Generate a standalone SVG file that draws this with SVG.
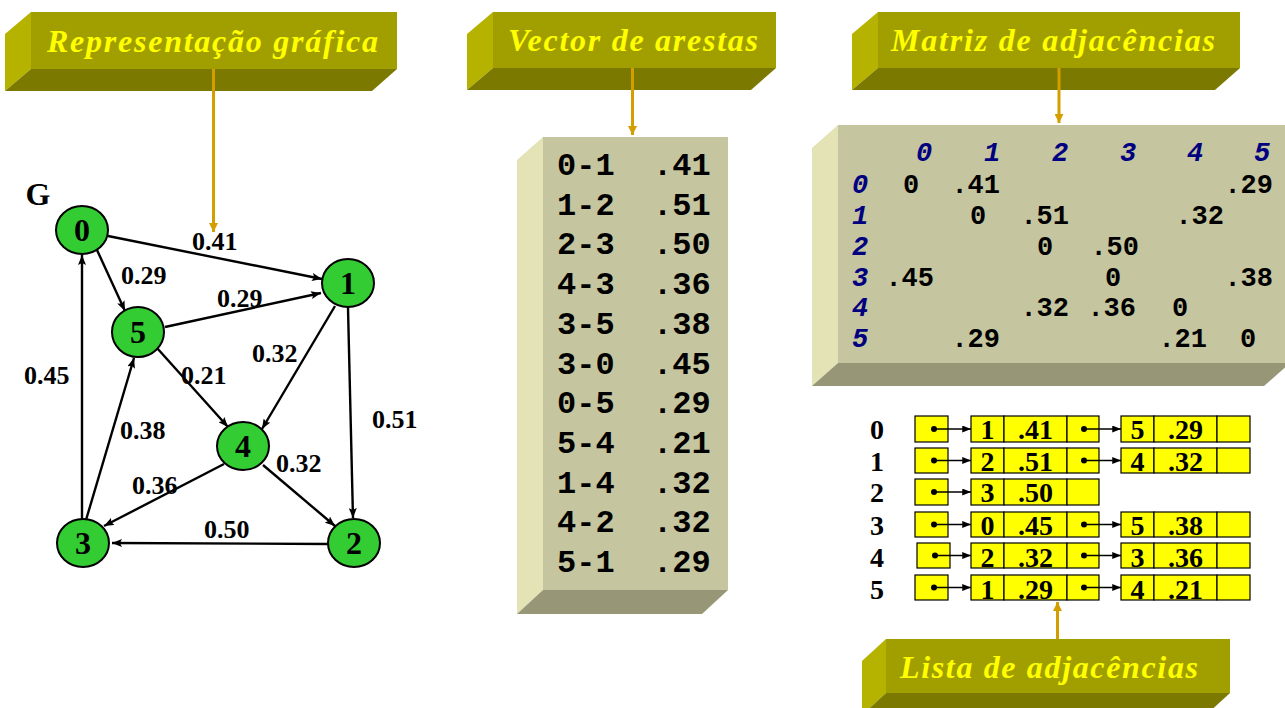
<svg xmlns="http://www.w3.org/2000/svg" width="1285" height="708" viewBox="0 0 1285 708">
<style>
.bf{fill:#A19E00}.bl{fill:#B5B200}.bb{fill:#7B7900}
.bt{font-family:"Liberation Serif",serif;font-weight:bold;font-style:italic;font-size:32px;fill:#FFFF00}
.pf{fill:#C5C59F}.pl{fill:#E3E3B6}.pb{fill:#979777}
.oc{stroke:#D49E00;stroke-width:3;fill:none}
.edge{stroke:#000;stroke-width:2.4;fill:none}
.gn{fill:#33CC33;stroke:#000;stroke-width:2}
.gl{font-family:"Liberation Serif",serif;font-weight:bold;font-size:32px;text-anchor:middle}
.el{font-family:"Liberation Serif",serif;font-weight:bold;font-size:26px}
.vt{font-family:"Liberation Mono",monospace;font-weight:bold;font-size:32px}
.mt{font-family:"Liberation Mono",monospace;font-weight:bold;font-size:27px}
.mh{font-family:"Liberation Mono",monospace;font-weight:bold;font-style:italic;font-size:27px;fill:#000080;text-anchor:middle}
.lb{fill:#FFFF00;stroke:#000;stroke-width:1.2}
.lt{font-family:"Liberation Serif",serif;font-weight:bold;font-size:28px;text-anchor:middle}
.pl2{stroke:#000;stroke-width:1.5}
</style>
<defs>
<marker id="ah" viewBox="0 0 10 8" refX="10" refY="4" markerWidth="10" markerHeight="8" markerUnits="userSpaceOnUse" orient="auto"><path d="M0,0 L10,4 L0,8 L2,4 z" fill="#000"/></marker>
<marker id="sah" viewBox="0 0 10 8" refX="10" refY="4" markerWidth="9" markerHeight="7" markerUnits="userSpaceOnUse" orient="auto"><path d="M0,0 L10,4 L0,8 z" fill="#000"/></marker>
<marker id="oah" viewBox="0 0 10 10" refX="10" refY="5" markerWidth="9" markerHeight="9" markerUnits="userSpaceOnUse" orient="auto"><path d="M0,0 L10,5 L0,10 z" fill="#D49E00"/></marker>
</defs>

<!-- Banners -->
<g id="banner-grafica">
<polygon class="bl" points="31,12 5,34 5,91 31,69"/>
<polygon class="bb" points="31,69 397,69 372,91 5,91"/>
<rect class="bf" x="31" y="12" width="366" height="57"/>
<text class="bt" x="47" y="52" textLength="331" lengthAdjust="spacing">Representação gráfica</text>
</g>
<g id="banner-vector">
<polygon class="bl" points="493,12 467,34 467,90 493,68"/>
<polygon class="bb" points="493,68 776,68 751,90 467,90"/>
<rect class="bf" x="493" y="12" width="283" height="56"/>
<text class="bt" x="508" y="51" textLength="250" lengthAdjust="spacing">Vector de arestas</text>
</g>
<g id="banner-matriz">
<polygon class="bl" points="878,12 852,34 852,90 878,68"/>
<polygon class="bb" points="878,68 1240,68 1215,90 852,90"/>
<rect class="bf" x="878" y="12" width="362" height="56"/>
<text class="bt" x="891" y="51" textLength="324" lengthAdjust="spacing">Matriz de adjacências</text>
</g>
<g id="banner-lista">
<polygon class="bl" points="886,639 862,661 862,715 886,693"/>
<polygon class="bb" points="886,693 1230,693 1206,715 862,715"/>
<rect class="bf" x="886" y="639" width="344" height="54"/>
<text class="bt" x="900" y="678" textLength="298" lengthAdjust="spacing">Lista de adjacências</text>
</g>

<!-- Vector box -->
<g id="vector">
<polygon class="pl" points="543,137 517,160 517,614 543,590"/>
<polygon class="pb" points="543,590 728,590 702,614 517,614"/>
<rect class="pf" x="543" y="137" width="185" height="453"/>
<g class="vt">
<text x="557" y="175">0-1</text><text x="653" y="175">.41</text>
<text x="557" y="214.7">1-2</text><text x="653" y="214.7">.51</text>
<text x="557" y="254.4">2-3</text><text x="653" y="254.4">.50</text>
<text x="557" y="294.1">4-3</text><text x="653" y="294.1">.36</text>
<text x="557" y="333.8">3-5</text><text x="653" y="333.8">.38</text>
<text x="557" y="373.5">3-0</text><text x="653" y="373.5">.45</text>
<text x="557" y="413.2">0-5</text><text x="653" y="413.2">.29</text>
<text x="557" y="452.9">5-4</text><text x="653" y="452.9">.21</text>
<text x="557" y="492.6">1-4</text><text x="653" y="492.6">.32</text>
<text x="557" y="532.3">4-2</text><text x="653" y="532.3">.32</text>
<text x="557" y="572">5-1</text><text x="653" y="572">.29</text>
</g>
</g>

<!-- Matrix box -->
<g id="matriz">
<polygon class="pl" points="838,125 812,148 812,386 838,363"/>
<polygon class="pb" points="838,363 1290,363 1264,386 812,386"/>
<rect class="pf" x="838" y="125" width="452" height="238"/>
<g class="mh">
<text x="924" y="161">0</text><text x="992" y="161">1</text><text x="1060" y="161">2</text><text x="1128" y="161">3</text><text x="1195" y="161">4</text><text x="1262" y="161">5</text>
<text x="860" y="193">0</text><text x="860" y="224">1</text><text x="860" y="255">2</text><text x="860" y="286">3</text><text x="860" y="316">4</text><text x="860" y="347">5</text>
</g>
<g class="mt">
<text x="911" y="193" text-anchor="middle">0</text><text x="1000" y="193" text-anchor="end">.41</text><text x="1273" y="193" text-anchor="end">.29</text>
<text x="978" y="224" text-anchor="middle">0</text><text x="1069" y="224" text-anchor="end">.51</text><text x="1224" y="224" text-anchor="end">.32</text>
<text x="1045" y="255" text-anchor="middle">0</text><text x="1139" y="255" text-anchor="end">.50</text>
<text x="934" y="286" text-anchor="end">.45</text><text x="1113" y="286" text-anchor="middle">0</text><text x="1273" y="286" text-anchor="end">.38</text>
<text x="1069" y="316" text-anchor="end">.32</text><text x="1136" y="316" text-anchor="end">.36</text><text x="1180" y="316" text-anchor="middle">0</text>
<text x="1000" y="347" text-anchor="end">.29</text><text x="1207" y="347" text-anchor="end">.21</text><text x="1248" y="347" text-anchor="middle">0</text>
</g>
</g>

<!-- Adjacency list -->
<g id="lista">
<g class="lt">
<text x="877" y="439">0</text><text x="877" y="471">1</text><text x="877" y="502">2</text><text x="877" y="535">3</text><text x="877" y="567">4</text><text x="877" y="599">5</text>
</g>
<g id="lista-0">
<rect class="lb" x="915" y="416" width="33" height="26"/>
<rect class="lb" x="971" y="416" width="33" height="26"/><rect class="lb" x="1004" y="416" width="63" height="26"/><rect class="lb" x="1067" y="416" width="32" height="26"/>
<rect class="lb" x="1121" y="416" width="33" height="26"/><rect class="lb" x="1154" y="416" width="63" height="26"/><rect class="lb" x="1217" y="416" width="33" height="26"/>
<text class="lt" x="987.5" y="439">1</text><text class="lt" x="1035.5" y="439">.41</text>
<text class="lt" x="1137.5" y="439">5</text><text class="lt" x="1185.5" y="439">.29</text>
</g>
<g id="lista-1">
<rect class="lb" x="915" y="448" width="33" height="25"/>
<rect class="lb" x="971" y="448" width="33" height="25"/><rect class="lb" x="1004" y="448" width="63" height="25"/><rect class="lb" x="1067" y="448" width="32" height="25"/>
<rect class="lb" x="1121" y="448" width="33" height="25"/><rect class="lb" x="1154" y="448" width="63" height="25"/><rect class="lb" x="1217" y="448" width="33" height="25"/>
<text class="lt" x="987.5" y="471">2</text><text class="lt" x="1035.5" y="471">.51</text>
<text class="lt" x="1137.5" y="471">4</text><text class="lt" x="1185.5" y="471">.32</text>
</g>
<g id="lista-2">
<rect class="lb" x="915" y="479" width="33" height="26"/>
<rect class="lb" x="971" y="479" width="33" height="26"/><rect class="lb" x="1004" y="479" width="63" height="26"/><rect class="lb" x="1067" y="479" width="32" height="26"/>
<text class="lt" x="987.5" y="502">3</text><text class="lt" x="1035.5" y="502">.50</text>
</g>
<g id="lista-3">
<rect class="lb" x="915" y="512" width="33" height="25"/>
<rect class="lb" x="971" y="512" width="33" height="25"/><rect class="lb" x="1004" y="512" width="63" height="25"/><rect class="lb" x="1067" y="512" width="32" height="25"/>
<rect class="lb" x="1121" y="512" width="33" height="25"/><rect class="lb" x="1154" y="512" width="63" height="25"/><rect class="lb" x="1217" y="512" width="33" height="25"/>
<text class="lt" x="987.5" y="535">0</text><text class="lt" x="1035.5" y="535">.45</text>
<text class="lt" x="1137.5" y="535">5</text><text class="lt" x="1185.5" y="535">.38</text>
</g>
<g id="lista-4">
<rect class="lb" x="917" y="543" width="33" height="25"/>
<rect class="lb" x="971" y="543" width="33" height="25"/><rect class="lb" x="1004" y="543" width="63" height="25"/><rect class="lb" x="1067" y="543" width="32" height="25"/>
<rect class="lb" x="1121" y="543" width="33" height="25"/><rect class="lb" x="1154" y="543" width="63" height="25"/><rect class="lb" x="1217" y="543" width="33" height="25"/>
<text class="lt" x="987.5" y="567">2</text><text class="lt" x="1035.5" y="567">.32</text>
<text class="lt" x="1137.5" y="567">3</text><text class="lt" x="1185.5" y="567">.36</text>
</g>
<g id="lista-5">
<rect class="lb" x="915" y="575" width="33" height="25"/>
<rect class="lb" x="971" y="575" width="33" height="25"/><rect class="lb" x="1004" y="575" width="63" height="25"/><rect class="lb" x="1067" y="575" width="32" height="25"/>
<rect class="lb" x="1121" y="575" width="33" height="25"/><rect class="lb" x="1154" y="575" width="63" height="25"/><rect class="lb" x="1217" y="575" width="33" height="25"/>
<text class="lt" x="987.5" y="599">1</text><text class="lt" x="1035.5" y="599">.29</text>
<text class="lt" x="1137.5" y="599">4</text><text class="lt" x="1185.5" y="599">.21</text>
</g>
<g id="lista-ponteiros">
<g fill="#000">
<circle cx="934" cy="429" r="3"/><circle cx="1084" cy="429" r="3"/>
<circle cx="934" cy="460.5" r="3"/><circle cx="1084" cy="460.5" r="3"/>
<circle cx="934" cy="492" r="3"/>
<circle cx="934" cy="524.5" r="3"/><circle cx="1084" cy="524.5" r="3"/>
<circle cx="935" cy="555.5" r="3"/><circle cx="1084" cy="555.5" r="3"/>
<circle cx="934" cy="587.5" r="3"/><circle cx="1084" cy="587.5" r="3"/>
</g>
<g class="pl2" marker-end="url(#sah)">
<line x1="934" y1="429" x2="971" y2="429"/><line x1="1084" y1="429" x2="1121" y2="429"/>
<line x1="934" y1="460.5" x2="971" y2="460.5"/><line x1="1084" y1="460.5" x2="1121" y2="460.5"/>
<line x1="934" y1="492" x2="971" y2="492"/>
<line x1="934" y1="524.5" x2="971" y2="524.5"/><line x1="1084" y1="524.5" x2="1121" y2="524.5"/>
<line x1="935" y1="555.5" x2="971" y2="555.5"/><line x1="1084" y1="555.5" x2="1121" y2="555.5"/>
<line x1="934" y1="587.5" x2="971" y2="587.5"/><line x1="1084" y1="587.5" x2="1121" y2="587.5"/>
</g>
</g>
</g>

<!-- Graph -->
<text class="gl" x="38" y="205">G</text>
<g id="connectors">
<g class="edge" marker-end="url(#ah)">
<line x1="108" y1="236" x2="322" y2="279"/>
<line x1="97" y1="250" x2="125" y2="311"/>
<line x1="165" y1="327" x2="321" y2="293"/>
<line x1="335" y1="306" x2="262" y2="429"/>
<line x1="157" y1="348" x2="228" y2="427"/>
<line x1="348" y1="308" x2="353" y2="518"/>
<line x1="82" y1="520" x2="82" y2="255"/>
<line x1="86" y1="520" x2="134" y2="358"/>
<line x1="224" y1="464" x2="104" y2="526"/>
<line x1="263" y1="465" x2="335" y2="526"/>
<line x1="328" y1="544" x2="112" y2="543"/>
</g>
<g class="oc" marker-end="url(#oah)">
<line x1="213.5" y1="69" x2="213.5" y2="232"/>
<line x1="632.5" y1="68" x2="632.5" y2="135"/>
<line x1="1059" y1="68" x2="1059" y2="123"/>
<line x1="1057.5" y1="639" x2="1057.5" y2="602"/>
</g>
<g class="el">
<text x="192" y="250">0.41</text>
<text x="121" y="284">0.29</text>
<text x="217" y="307">0.29</text>
<text x="252" y="362">0.32</text>
<text x="181" y="384">0.21</text>
<text x="24" y="384">0.45</text>
<text x="372" y="428">0.51</text>
<text x="120" y="439">0.38</text>
<text x="276" y="472">0.32</text>
<text x="132" y="494">0.36</text>
<text x="204" y="538">0.50</text>
</g>
</g>
<g id="node-0"><ellipse class="gn" cx="82" cy="230" rx="26" ry="24"/><text class="gl" x="82" y="241">0</text></g>
<g id="node-1"><ellipse class="gn" cx="348" cy="283" rx="26" ry="24"/><text class="gl" x="348" y="294">1</text></g>
<g id="node-2"><ellipse class="gn" cx="354" cy="543" rx="26" ry="24"/><text class="gl" x="354" y="554">2</text></g>
<g id="node-3"><ellipse class="gn" cx="83" cy="543" rx="26" ry="24"/><text class="gl" x="83" y="554">3</text></g>
<g id="node-4"><ellipse class="gn" cx="243" cy="446" rx="26" ry="24"/><text class="gl" x="243" y="457">4</text></g>
<g id="node-5"><ellipse class="gn" cx="138" cy="332" rx="26" ry="25"/><text class="gl" x="138" y="343">5</text></g>
</svg>
